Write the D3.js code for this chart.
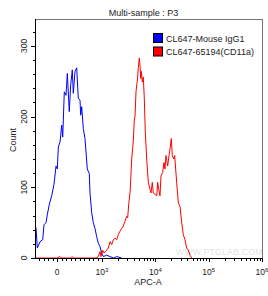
<!DOCTYPE html>
<html>
<head>
<meta charset="utf-8">
<script src="https://cdnjs.cloudflare.com/ajax/libs/d3/7.8.5/d3.min.js"></script>
<style>
  html, body { margin: 0; padding: 0; background: #fff; }
  svg { display: block; font-family: "Liberation Sans", Arial, sans-serif; }
</style>
</head>
<body>
<div id="chart"></div>
<script>
// Histogram overlay: isotype control vs CD11a, APC-A channel (biex-like axis)
const SERIES = ["CL647-Mouse IgG1", "CL647-65194(CD11a)"];
const COLORS = ["#0000ff", "#ff0000"];

// [APC-A intensity, count]
const isotype = [
  [-467, 43], [-438, 14], [-378, 23], [-318, 26], [-289, 47], [-244, 50],
  [-216, 61], [-171, 76], [-118, 88], [-67, 104], [-22, 130], [7, 126],
  [29, 157], [67, 164], [104, 188], [127, 171], [162, 235], [200, 230],
  [229, 261], [273, 207], [304, 245], [340, 266], [362, 233], [400, 264],
  [438, 269], [473, 226], [511, 223], [527, 202], [549, 214], [584, 183],
  [622, 169], [673, 126], [718, 119], [733, 92], [771, 64], [807, 50],
  [844, 42], [882, 30], [918, 21], [956, 16], [993, 7], [1058, 2],
  [1225, 4], [1412, 2], [1650, 0], [1888, 2], [2340, 0]
];

const cd11a = [
  [-467, 0], [20, 0], [40, 2], [80, 1], [110, 0], [300, 0], [330, 2], [370, 0],
  [870, 0], [918, 2], [956, 9], [978, 2], [1031, 11], [1090, 7], [1189, 10],
  [1313, 14], [1413, 23], [1520, 19], [1629, 26], [1753, 28], [1887, 26],
  [2023, 33], [2175, 38], [2507, 45], [2698, 52], [2904, 59], [3033, 57],
  [3165, 76], [3350, 92], [3453, 110], [3605, 140], [3862, 165], [4033, 195],
  [4158, 200], [4341, 235], [4477, 245], [4592, 250], [4797, 269], [5004, 283],
  [5158, 273], [5319, 254], [5458, 264], [5700, 249], [5947, 256], [6210, 226],
  [6484, 178], [6889, 140], [7386, 107], [7943, 97], [8294, 92], [8770, 107],
  [9160, 92], [9860, 90], [10610, 88], [11080, 107], [11570, 97], [12230, 88],
  [12770, 116], [13740, 121], [14540, 135], [15180, 126], [15850, 145],
  [17050, 130], [18030, 145], [18840, 154], [19920, 169], [20800, 145],
  [22090, 140], [23060, 145], [25120, 107], [26960, 78], [29010, 73],
  [31200, 50], [33420, 33], [35940, 26], [38690, 14], [41500, 11],
  [44670, 4], [48070, 0]
];

const X_MAJOR = [0, 1e3, 1e4, 1e5, 1e6];
const X_LABELS = [["0", ""], ["10", "3"], ["10", "4"], ["10", "5"], ["10", "6"]];
const Y_MAJOR = [0, 100, 200, 300];

/* ── Layout ── */
const W = 268, H = 296;
const plot = { left: 36, right: 262, top: 19, bottom: 258 };

const svg = d3.select("#chart").append("svg")
  .attr("width", W).attr("height", H);

/* ── Scales: linear below 10^3, log above ── */
const xLin = d3.scaleLinear().domain([-467, 1000]).range([plot.left, 102]);
const xLog = d3.scaleLog().domain([1e3, 1e6]).range([102, plot.right]);
const x = v => v < 1000 ? xLin(v) : xLog(v);
const y = d3.scaleLinear().domain([0, 338]).range([plot.bottom, plot.top]);

/* ── Title ── */
svg.append("text")
  .attr("x", 143.5).attr("y", 16)
  .attr("text-anchor", "middle").attr("font-size", 9).attr("fill", "#222")
  .text("Multi-sample : P3");

/* ── Watermark ── */
svg.append("text")
  .attr("x", 176).attr("y", 255)
  .attr("font-size", 8.6).attr("fill", "#e2e2e2")
  .attr("letter-spacing", 0.3)
  .text("WWW.PTGLAB.COM");

/* ── Histograms ── */
svg.append("clipPath").attr("id", "clip")
  .append("rect")
  .attr("x", plot.left).attr("y", plot.top)
  .attr("width", plot.right - plot.left).attr("height", plot.bottom - plot.top);

const line = d3.line().x(d => x(d[0])).y(d => y(d[1]));
const gData = svg.append("g").attr("clip-path", "url(#clip)");
[isotype, cd11a].forEach((s, i) => {
  gData.append("path")
    .attr("d", line(s))
    .attr("fill", "none")
    .attr("stroke", COLORS[i])
    .attr("stroke-width", 1)
    .attr("stroke-linejoin", "round");
});

/* ── Frame ── */
svg.append("path")
  .attr("d", `M${plot.left},${plot.top}H${plot.right}V${plot.bottom}`)
  .attr("fill", "none").attr("stroke", "#777").attr("stroke-width", 1)
  .attr("shape-rendering", "crispEdges");

/* ── X axis ── */
const xMinor = [];
for (let v = -400; v < 1000; v += 100) if (v !== 0) xMinor.push(v);
[1e3, 1e4, 1e5].forEach(d => { for (let k = 2; k <= 9; k++) xMinor.push(d * k); });

const gx = svg.append("g");
gx.selectAll("line.minor").data(xMinor).join("line")
  .attr("x1", d => Math.round(x(d)) + 0.5).attr("x2", d => Math.round(x(d)) + 0.5)
  .attr("y1", plot.bottom).attr("y2", plot.bottom + 3)
  .attr("stroke", "#000");
gx.selectAll("line.major").data(X_MAJOR).join("line")
  .attr("x1", d => Math.round(x(d)) + 0.5).attr("x2", d => Math.round(x(d)) + 0.5)
  .attr("y1", plot.bottom).attr("y2", plot.bottom + 4)
  .attr("stroke", "#000");
gx.append("line")
  .attr("x1", plot.left).attr("x2", plot.right)
  .attr("y1", plot.bottom + 0.5).attr("y2", plot.bottom + 0.5)
  .attr("stroke", "#000");

X_MAJOR.forEach((v, i) => {
  const t = gx.append("text")
    .attr("x", x(v)).attr("y", 275)
    .attr("text-anchor", "middle").attr("font-size", 8.5).attr("fill", "#222");
  t.append("tspan").text(X_LABELS[i][0]);
  if (X_LABELS[i][1]) {
    t.append("tspan").attr("dy", -3.5).attr("font-size", 6).text(X_LABELS[i][1]);
  }
});

svg.append("text")
  .attr("x", 148).attr("y", 285)
  .attr("text-anchor", "middle").attr("font-size", 9).attr("fill", "#222")
  .text("APC-A");

/* ── Y axis ── */
const yMinor = d3.range(0, 339, 20).filter(v => v % 100 !== 0);
const gy = svg.append("g");
gy.selectAll("line.minor").data(yMinor).join("line")
  .attr("x1", plot.left - 3).attr("x2", plot.left)
  .attr("y1", d => Math.round(y(d)) + 0.5).attr("y2", d => Math.round(y(d)) + 0.5)
  .attr("stroke", "#000");
gy.selectAll("line.major").data(Y_MAJOR).join("line")
  .attr("x1", plot.left - 5).attr("x2", plot.left)
  .attr("y1", d => Math.round(y(d)) + 0.5).attr("y2", d => Math.round(y(d)) + 0.5)
  .attr("stroke", "#000");
gy.append("line")
  .attr("x1", plot.left - 0.5).attr("x2", plot.left - 0.5)
  .attr("y1", plot.top).attr("y2", plot.bottom + 1)
  .attr("stroke", "#000");

gy.selectAll("text").data(Y_MAJOR).join("text")
  .attr("transform", d => `translate(26.5,${y(d)}) rotate(-90)`)
  .attr("text-anchor", "middle").attr("font-size", 8.5).attr("fill", "#222")
  .text(d => d);

svg.append("text")
  .attr("transform", `translate(16,140) rotate(-90)`)
  .attr("text-anchor", "middle").attr("font-size", 9).attr("fill", "#222")
  .text("Count");

/* ── Legend ── */
const legend = svg.append("g").attr("transform", "translate(153.5,33.5)");
SERIES.forEach((name, i) => {
  const row = legend.append("g").attr("transform", `translate(0,${i * 13.5})`);
  row.append("rect").attr("width", 9).attr("height", 9)
    .attr("fill", COLORS[i]).attr("stroke", "#000").attr("stroke-width", 1);
  row.append("text").attr("x", 12.5).attr("y", 8)
    .attr("font-size", 9).attr("fill", "#222")
    .text(name);
});
</script>
</body>
</html>
